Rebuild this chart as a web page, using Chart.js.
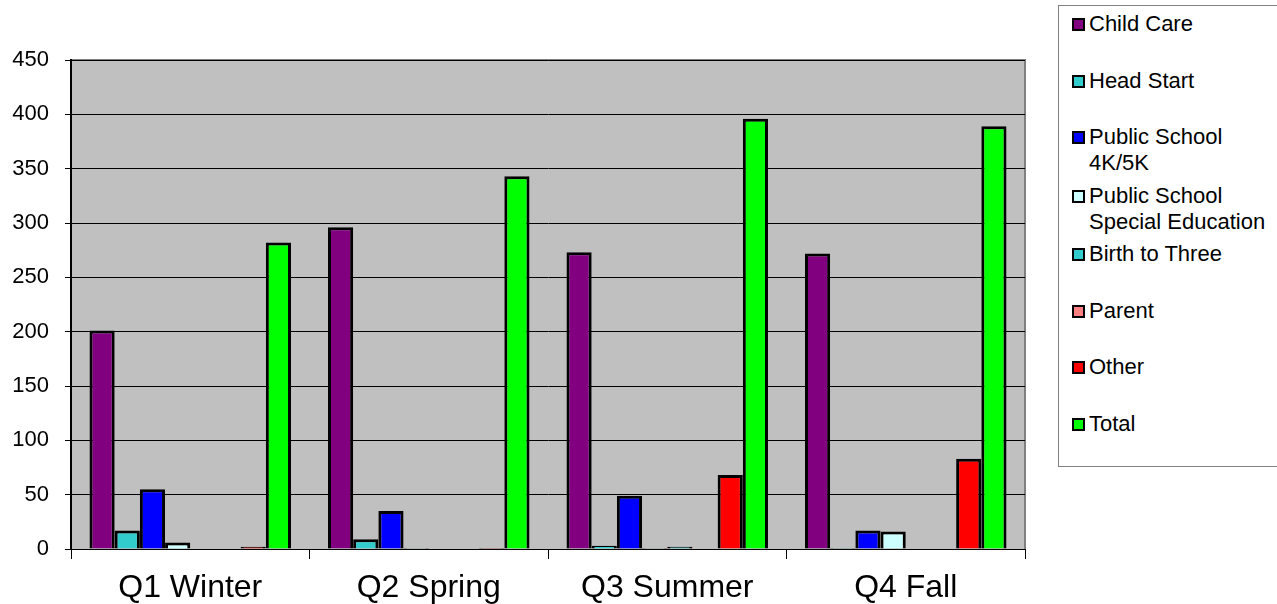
<!DOCTYPE html>
<html>
<head>
<meta charset="utf-8">
<script src="https://cdn.jsdelivr.net/npm/chart.js@4/dist/chart.umd.min.js"></script>
<style>
  html, body { margin: 0; padding: 0; background: #fff; }
  #wrap { position: relative; width: 1277px; height: 604px; overflow: hidden; }
  #legend {
    position: absolute; left: 1058px; top: 5px; width: 230px; height: 460px;
    border: 1px solid #808080; border-right: none; background: #fff;
    font-family: Arial, "Liberation Sans", sans-serif; font-size: 22px; color: #000;
  }
  .item { position: absolute; left: 13px; display: flex; align-items: flex-start; line-height: 26px; }
  .box { width: 9px; height: 9px; border: 2px solid #000; margin-top: 7px; margin-right: 4px; flex: none; }
</style>
</head>
<body>
<div id="wrap">
  <canvas id="chart" width="1277" height="604"></canvas>
  <div id="legend"></div>
</div>
<script>
// Categories and series values
const quarters = ['Q1 Winter', 'Q2 Spring', 'Q3 Summer', 'Q4 Fall'];
const childCare = [201, 296, 273, 272];
const headStart = [17, 9, 3, 1];
const publicSchool4K = [55, 35, 49, 17];
const specialEd = [6, 1, 1, 16];
const birthToThree = [0, 0, 2, 0];
const parent = [0, 0, 0, 0];
const other = [2, 1, 68, 83];
const total = [282, 343, 396, 389];
const yTicks = [0, 50, 100, 150, 200, 250, 300, 350, 400, 450];

const seriesNames = [['Child Care'], ['Head Start'], ['Public School', '4K/5K'], ['Public School', 'Special Education'],
    ['Birth to Three'], ['Parent'], ['Other'], ['Total']];
const seriesData = [childCare, headStart, publicSchool4K, specialEd, birthToThree, parent, other, total];
const seriesColors = ['#800080', '#33CCCC', '#0000FF', '#CCFFFF', '#33CCCC', '#FF8080', '#FF0000', '#00FF00'];

const font = 'Arial, "Liberation Sans", sans-serif';

// Grey plot area like the original spreadsheet chart
const plotBackground = {
    id: 'plotBackground',
    beforeDraw(chart) {
        const { ctx, chartArea: a } = chart;
        ctx.save();
        ctx.fillStyle = '#C0C0C0';
        ctx.fillRect(a.left, a.top, a.right - a.left, a.bottom - a.top);
        ctx.strokeStyle = '#808080';
        ctx.lineWidth = 2;
        ctx.beginPath();
        ctx.moveTo(a.left, a.top);
        ctx.lineTo(a.right, a.top);
        ctx.lineTo(a.right, a.bottom);
        ctx.stroke();
        ctx.restore();
    }
};

new Chart(document.getElementById('chart'), {
    type: 'bar',
    data: {
        labels: quarters,
        datasets: seriesData.map((d, i) => ({
            label: seriesNames[i].join(' '),
            data: d,
            backgroundColor: seriesColors[i],
            borderColor: '#000',
            borderWidth: 3,
            borderSkipped: 'bottom',
            barPercentage: 1,
            categoryPercentage: 0.845
        }))
    },
    options: {
        responsive: false,
        animation: false,
        layout: { padding: { top: 60, right: 252, left: 0, bottom: 0 } },
        plugins: { legend: { display: false }, tooltip: { enabled: false } },
        scales: {
            x: {
                afterFit(scale) { scale.height = 55; },
                grid: { offset: true, drawOnChartArea: false, color: '#000', tickLength: 10 },
                border: { color: '#000', width: 1 },
                ticks: { color: '#000', font: { family: font, size: 32 }, padding: 10 }
            },
            y: {
                min: 0,
                max: 450,
                afterFit(scale) { scale.width = 71; },
                afterBuildTicks(scale) { scale.ticks = yTicks.map(v => ({ value: v })); },
                grid: { color: '#000', lineWidth: 1, tickLength: 6 },
                border: { color: '#000', width: 2 },
                ticks: { color: '#000', font: { family: font, size: 22 }, padding: 16 }
            }
        }
    },
    plugins: [plotBackground]
});

// Legend built from the same series lists
const legend = document.getElementById('legend');
const itemTops = [5, 62, 118, 177, 235, 292, 348, 405];
seriesNames.forEach((name, i) => {
    const item = document.createElement('div');
    item.className = 'item';
    item.style.top = itemTops[i] + 'px';
    item.innerHTML = '<div class="box" style="background:' + seriesColors[i] + '"></div><div>' + name.join('<br>') + '</div>';
    legend.appendChild(item);
});
</script>
</body>
</html>
